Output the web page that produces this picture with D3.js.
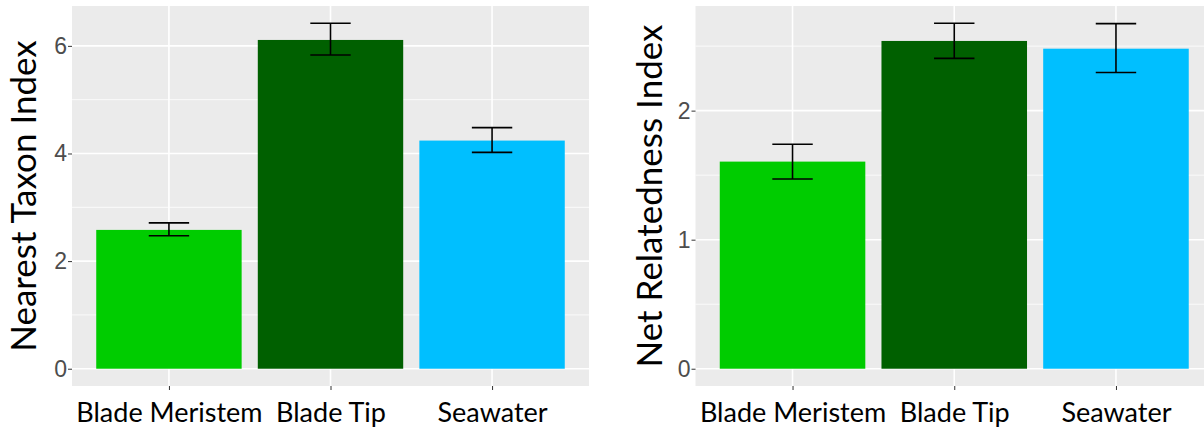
<!DOCTYPE html>
<html>
<head>
<meta charset="utf-8">
<script src="https://cdn.jsdelivr.net/npm/d3@7"></script>
<style>
  html, body { margin: 0; padding: 0; background: #fff; }
  svg { display: block; }
</style>
</head>
<body>
<svg id="chart" width="1204" height="430"></svg>
<script>
// Groups shared by both panels
const categories = ["Blade Meristem", "Blade Tip", "Seawater"];
const barColors = ["#00CC00", "#006000", "#00BFFF"];

// Nearest Taxon Index: means and error-bar limits
const ntiMean = [2.58, 6.11, 4.24];
const ntiLow  = [2.47, 5.83, 4.02];
const ntiHigh = [2.71, 6.42, 4.48];
const ntiTicks = [0, 2, 4, 6];
const ntiMinor = [1, 3, 5];

// Net Relatedness Index: means and error-bar limits
const nriMean = [1.605, 2.54, 2.48];
const nriLow  = [1.47, 2.405, 2.295];
const nriHigh = [1.74, 2.677, 2.674];
const nriTicks = [0, 1, 2];
const nriMinor = [0.5, 1.5, 2.5];

const svg = d3.select("#chart");

function panel(opts) {
  const { left, right, top, bottom, mean, low, high, ticks, minor, title, titleX } = opts;
  const g = svg.append("g");

  const x = d3.scalePoint().domain(categories).range([left, right]).padding(0.6);
  const step = x.step();
  const maxV = d3.max(high);
  const y = d3.scaleLinear().domain([-0.05 * maxV, 1.05 * maxV]).range([bottom, top]);

  // panel background
  g.append("rect").attr("x", left).attr("y", top)
    .attr("width", right - left).attr("height", bottom - top)
    .attr("fill", "#EBEBEB");

  // grid
  g.selectAll(".minor").data(minor).join("line")
    .attr("x1", left).attr("x2", right)
    .attr("y1", d => y(d)).attr("y2", d => y(d))
    .attr("stroke", "#fff").attr("stroke-width", 0.8);
  g.selectAll(".major").data(ticks).join("line")
    .attr("x1", left).attr("x2", right)
    .attr("y1", d => y(d)).attr("y2", d => y(d))
    .attr("stroke", "#fff").attr("stroke-width", 1.6);
  g.selectAll(".vmajor").data(categories).join("line")
    .attr("x1", d => x(d)).attr("x2", d => x(d))
    .attr("y1", top).attr("y2", bottom)
    .attr("stroke", "#fff").attr("stroke-width", 1.6);

  // bars
  const bw = step * 0.9;
  g.selectAll(".bar").data(categories).join("rect")
    .attr("x", d => x(d) - bw / 2)
    .attr("width", bw)
    .attr("y", (d, i) => y(mean[i]))
    .attr("height", (d, i) => y(0) - y(mean[i]))
    .attr("fill", (d, i) => barColors[i]);

  // error bars
  const cw = step * 0.25;
  const eb = g.selectAll(".err").data(categories).join("g")
    .attr("stroke", "#000").attr("stroke-width", 1.6).attr("fill", "none");
  eb.append("line")
    .attr("x1", d => x(d)).attr("x2", d => x(d))
    .attr("y1", (d, i) => y(low[i])).attr("y2", (d, i) => y(high[i]));
  eb.append("line")
    .attr("x1", d => x(d) - cw / 2).attr("x2", d => x(d) + cw / 2)
    .attr("y1", (d, i) => y(high[i])).attr("y2", (d, i) => y(high[i]));
  eb.append("line")
    .attr("x1", d => x(d) - cw / 2).attr("x2", d => x(d) + cw / 2)
    .attr("y1", (d, i) => y(low[i])).attr("y2", (d, i) => y(low[i]));

  // y axis
  const ya = g.append("g").attr("transform", `translate(${left},0)`)
    .call(d3.axisLeft(y).tickValues(ticks).tickSize(4).tickPadding(1).tickFormat(d3.format("d")));
  ya.select(".domain").remove();
  ya.selectAll(".tick line").attr("stroke", "#333").attr("stroke-width", 1);
  ya.selectAll(".tick text")
    .attr("fill", "#4D4D4D")
    .style("font-family", "'Liberation Sans', Arial, sans-serif")
    .style("font-size", "23px");

  // x axis
  const xa = g.append("g").attr("transform", `translate(0,${bottom})`)
    .call(d3.axisBottom(x).tickSize(4).tickPadding(13));
  xa.select(".domain").remove();
  xa.selectAll(".tick line").attr("stroke", "#333").attr("stroke-width", 1);
  xa.selectAll(".tick text")
    .attr("fill", "#000")
    .style("font-family", "Lato, 'Open Sans', sans-serif")
    .style("font-size", "27px");

  // y title
  g.append("text")
    .attr("transform", `translate(${titleX},${(top + bottom) / 2}) rotate(-90)`)
    .attr("text-anchor", "middle")
    .style("font-family", "Lato, 'Open Sans', sans-serif")
    .style("font-size", "35px")
    .attr("fill", "#000")
    .text(title);
}

panel({ left: 72, right: 589, top: 6, bottom: 386,
  mean: ntiMean, low: ntiLow, high: ntiHigh, ticks: ntiTicks, minor: ntiMinor,
  title: "Nearest Taxon Index", titleX: 36 });

panel({ left: 695.5, right: 1213, top: 6, bottom: 386,
  mean: nriMean, low: nriLow, high: nriHigh, ticks: nriTicks, minor: nriMinor,
  title: "Net Relatedness Index", titleX: 662 });
</script>
</body>
</html>
